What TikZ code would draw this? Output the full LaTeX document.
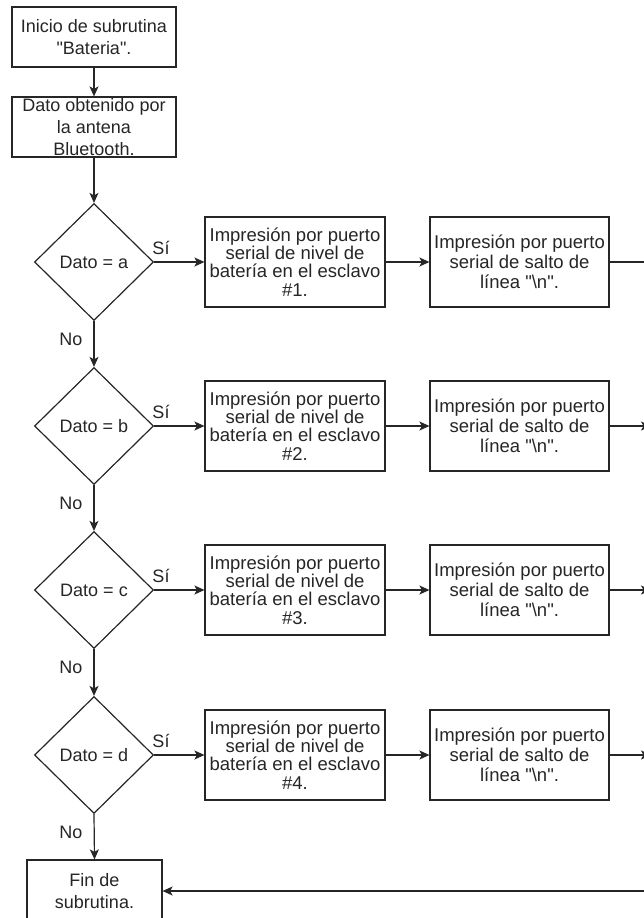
\documentclass[tikz,border=0pt]{standalone}
\usepackage{fontspec}
\setmainfont{Liberation Sans}[Ligatures=TeXOff]
\usetikzlibrary{shapes.geometric,arrows.meta}
\begin{document}
\begin{tikzpicture}[x=1pt,y=-1pt,
  every node/.style={font=\fontsize{18}{21.7}\selectfont, inner sep=0pt, align=center, text=black!85},
  boxnode/.style={draw=black!85, line width=1.2pt, rectangle},
  tightfont/.style={font=\fontsize{18.5}{18.3}\selectfont},
  midfont/.style={font=\fontsize{18.5}{20}\selectfont},
  decnode/.style={draw=black!85, line width=1.2pt, diamond, minimum width=119pt, minimum height=117pt},
  conn/.style={draw=black!85, line width=1.2pt, -{Stealth[length=10pt,width=9pt,inset=2.5pt]}},
  plainline/.style={draw=black!85, line width=1.2pt}]
\useasboundingbox (0,0) rectangle (644,918);
\clip (0,0) rectangle (644,918);
\fill[white] (0,0) rectangle (644,918);

\node[boxnode, minimum width=164pt, minimum height=60pt] (start) at (94,37) {Inicio de subrutina\\"Bateria".};
\node[boxnode, minimum width=164pt, minimum height=60pt] (dato) at (94,127) {Dato obtenido por\\la antena\\Bluetooth.};

\foreach \i/\yy/\l in {1/262/a,2/426/b,3/590/c,4/755/d} {
  \node[decnode] (d\i) at (94,\yy) {Dato = \l};
  \node[boxnode, tightfont, minimum width=180pt, minimum height=90pt] (n\i) at (295,\yy) {Impresión por puerto\\serial de nivel de\\batería en el esclavo\\\#\i.};
  \node[boxnode, midfont, minimum width=179pt, minimum height=90pt] (s\i) at (519.5,\yy) {Impresión por puerto\\serial de salto de\\línea "\textbackslash n".};
  \node (si\i) at (161,\yy-14) {Sí};
  \node (no\i) at (71,\yy+77) {No};
  \draw[conn] (d\i.east) -- (n\i.west);
  \draw[conn] (n\i.east) -- (s\i.west);
}

\node[boxnode, minimum width=135pt, minimum height=62pt] (fin) at (94.5,891) {Fin de\\subrutina.};

\coordinate (r1) at (650,262);
\coordinate (r2) at (651,426);
\coordinate (r3) at (651,590);
\coordinate (r4) at (651,755);
\coordinate (rb) at (650,891);

\draw[conn] (start) -- (dato);
\draw[conn] (dato) -- (d1.north);
\draw[conn] (d1.south) -- (d2.north);
\draw[conn] (d2.south) -- (d3.north);
\draw[conn] (d3.south) -- (d4.north);
\draw[conn] (d4.south) -- (fin.north);

\draw[plainline] (s1.east) -- (r1);
\draw[conn] (s2.east) -- (r2);
\draw[conn] (s3.east) -- (r3);
\draw[conn] (s4.east) -- (r4);
\draw[conn] (rb) -- (fin.east);
\end{tikzpicture}
\end{document}
